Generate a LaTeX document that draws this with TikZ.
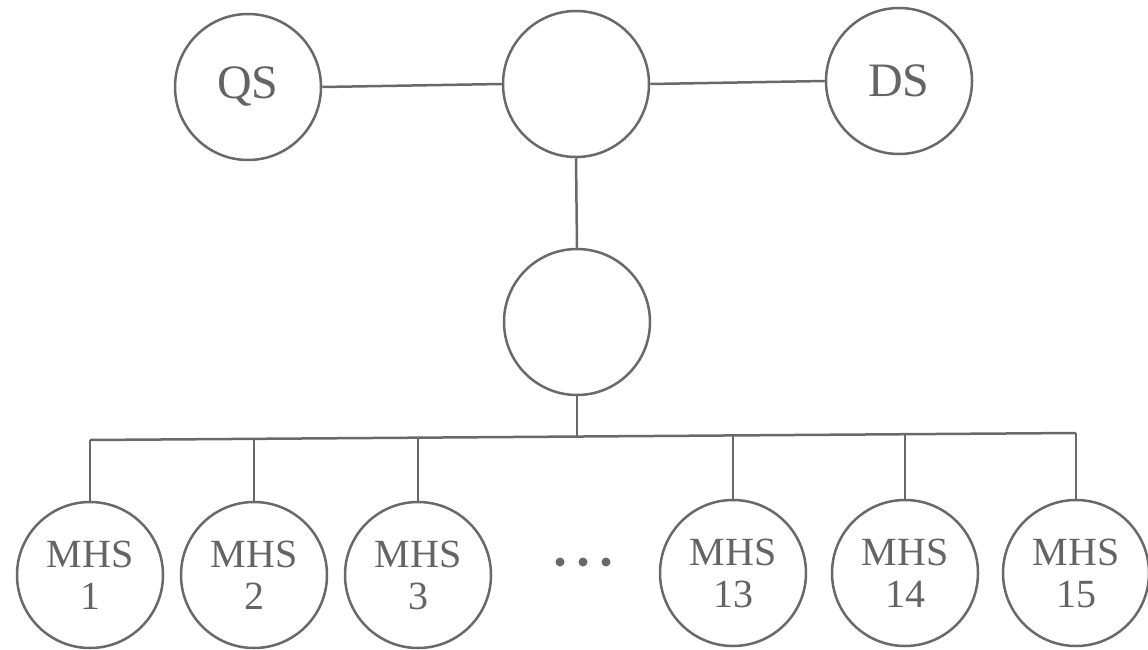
\documentclass[tikz,border=0pt]{standalone}
\usepackage{fontspec}
\setmainfont{Liberation Serif}
\definecolor{lc}{RGB}{105,105,105}
\definecolor{tc}{RGB}{100,100,100}
\tikzset{
  nd/.style={circle,draw=lc,line width=2.5pt,minimum size=146pt,inner sep=0pt,text=tc},
  big/.style={font=\fontsize{48}{50}\selectfont},
  small/.style={font=\fontsize{40}{42}\selectfont,align=center},
  ln/.style={draw=lc,line width=2.5pt},
  dotnd/.style={circle,fill=lc,inner sep=0pt,minimum size=9pt}
}
\begin{document}
\begin{tikzpicture}[x=1pt,y=-1pt]
\useasboundingbox (0,0) rectangle (1148,650);
% top row
\node[nd,big] (qs) at (248,87) {QS};
\node[nd] (ctr) at (576,84) {};
\node[nd,big] (ds) at (899,81) {DS};
\node[nd] (mid) at (577,322) {};
% bottom row
\node[nd,small] (m1) at (90,575) {MHS\\1};
\node[nd,small] (m2) at (254,575) {MHS\\2};
\node[nd,small] (m3) at (418,575) {MHS\\3};
\node[nd,small] (m13) at (733,573) {MHS\\13};
\node[nd,small] (m14) at (905,573) {MHS\\14};
\node[nd,small] (m15) at (1076,573) {MHS\\15};
% dots
\node[dotnd] (d1) at (560,562) {};
\node[dotnd] (d2) at (583,562) {};
\node[dotnd] (d3) at (606,562) {};
% bus coordinates
\coordinate (b1) at (90,440);
\coordinate (b2) at (254,438.8);
\coordinate (b3) at (418,437.7);
\coordinate (bm) at (577,436.5);
\coordinate (b13) at (733,435.4);
\coordinate (b14) at (905,434.2);
\coordinate (b15) at (1076,433);
% connectors
\draw[ln] (qs.east) -- (ctr.west);
\draw[ln] (ctr.east) -- (ds.west);
\draw[ln] (ctr.south) -- (mid.north);
\draw[ln] (mid.south) -- (bm);
\draw[ln] (b1) -- (b15);
\draw[ln] (b1) -- (m1.north);
\draw[ln] (b2) -- (m2.north);
\draw[ln] (b3) -- (m3.north);
\draw[ln] (b13) -- (m13.north);
\draw[ln] (b14) -- (m14.north);
\draw[ln] (b15) -- (m15.north);
\end{tikzpicture}
\end{document}
